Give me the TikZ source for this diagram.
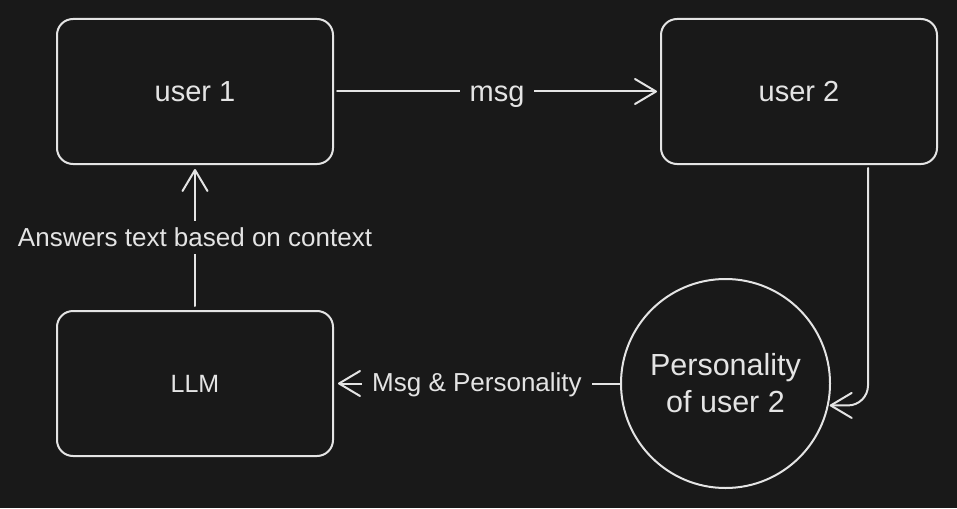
\documentclass[tikz,border=0pt]{standalone}
\usepackage{fontspec}
\setmainfont{Liberation Sans}
\usetikzlibrary{arrows.meta}
\definecolor{bg}{HTML}{191919}
\definecolor{ink}{HTML}{E4E4E4}
\tikzset{
  box/.style={draw=ink, line width=2pt, rounded corners=16pt, minimum width=276pt, minimum height=145pt, inner sep=0pt, text=ink},
  roundbox/.style={draw=ink, line width=2pt, circle, minimum size=209pt, inner sep=0pt, text=ink, align=center},
  conn/.style={draw=ink, line width=2pt, line cap=round, line join=round, -{Straight Barb[length=21pt,width=25pt,round]}},
  lab/.style={fill=bg, text=ink, inner xsep=10pt, inner ysep=7pt},
  big/.style={font=\fontsize{29}{34}\selectfont},
  mid/.style={font=\fontsize{26}{31}\selectfont},
}
\begin{document}
\begin{tikzpicture}[x=1pt, y=-1pt]
\useasboundingbox[fill=bg] (0,0) rectangle (957,508);
\node[box, big] (u1) at (195,91.5) {user 1};
\node[box, big] (u2) at (799,91.5) {user 2};
\node[box, font=\fontsize{25}{30}\selectfont] (llm) at (195,383.5) {LLM};
\node[roundbox, font=\fontsize{30.5}{37}\selectfont] (circ) at (725.5,383.5) {Personality\\of user 2};
\coordinate (start2) at ([xshift=69pt]u2.south);
\draw[conn, shorten <=3pt, shorten >=3pt] (u1.east) -- (u1.east -| u2.west) node[midway, lab, big, yshift=-5pt] (m1) {msg};
\draw[conn, shorten <=4pt, shorten >=4pt] (llm.north) -- (u1.south) node[midway, lab, mid] (m2) {Answers text based on context};
\draw[conn, shorten >=4pt] (circ.west) -- (llm.east) node[midway, lab, mid, yshift=-1pt] (m3) {Msg \& Personality};
\draw[conn, rounded corners=20pt, shorten <=3pt, shorten >=1pt] (start2) |- (circ.-12);
\end{tikzpicture}
\end{document}
